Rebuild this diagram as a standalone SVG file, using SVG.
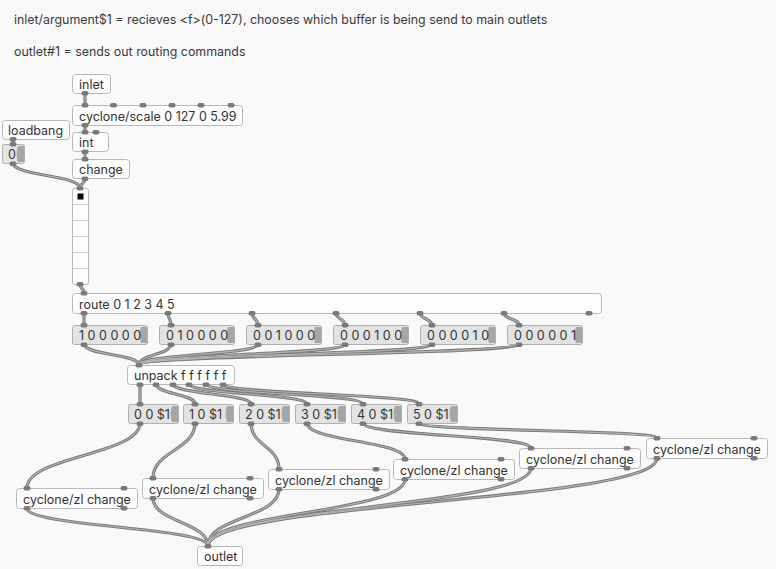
<svg xmlns="http://www.w3.org/2000/svg" width="776" height="569" viewBox="0 0 776 569">
<defs>
<style>
.bg{fill:#f9f9f9}
.obj{fill:#fdfdfd;stroke:#b8b8b8;stroke-width:1}
.msg{fill:#e3e3e3;stroke:#b0b0b0;stroke-width:1}
.flag{fill:#a6a6a6}
.io{fill:#7a7a7a}
.t{font-family:Inter,"DejaVu Sans",sans-serif;font-size:12.5px;fill:#333}
.c{font-family:Inter,"DejaVu Sans",sans-serif;font-size:12.4px;fill:#3a3a3a}
.cell{stroke:#d0d0d0;stroke-width:1}
.co{fill:none;stroke:#7a7a7a;stroke-width:3.2;stroke-linecap:round}
.ci{fill:none;stroke:#b4b4b4;stroke-width:1.1;stroke-linecap:round}
</style>
</defs>
<rect class="bg" x="0" y="0" width="776" height="569"/>

<g id="comments">
<text class="c" x="14" y="23.5">inlet/argument$1 = recieves &lt;f&gt;(0-127), chooses which buffer is being send to main outlets</text>
<text class="c" x="14" y="55.5">outlet#1 = sends out routing commands</text>
</g>

<g id="connectors">
<g class="co">
<path d="M85,93 L85,105"/>
<path d="M85,125 L85,132"/>
<path d="M85,152 L85,159"/>
<path d="M85,179 C85,184 80,183 80,188"/>
<path d="M13,139 L13,144"/>
<path d="M13,163 C13,176 80,175 80,188"/>
<path d="M80,284 C80,289 84,288 84,293"/>
<path d="M84,313 L84,325"/>
<path d="M168,313 C168,319 171,319 171,325"/>
<path d="M252,313 C252,319 258,319 258,325"/>
<path d="M336,313 C336,319 345,319 345,325"/>
<path d="M420,313 C420,319 432,319 432,325"/>
<path d="M504,313 C504,319 519,319 519,325"/>
<path d="M84,344 C84,355 139,354 139,365"/>
<path d="M171,344 C171,355 139,354 139,365"/>
<path d="M258,344 C258,355 139,354 139,365"/>
<path d="M345,344 C345,355 139,354 139,365"/>
<path d="M432,344 C432,355 139,354 139,365"/>
<path d="M519,344 C519,355 139,354 139,365"/>
<path d="M140,384 L140,404"/>
<path d="M156,384 C156,394 195,394 195,404"/>
<path d="M173,384 C173,394 251,394 251,404"/>
<path d="M189,384 C189,394 307,394 307,404"/>
<path d="M206,384 C206,394 363,394 363,404"/>
<path d="M223,384 C223,394 419,394 419,404"/>
<path d="M140,423 C140,455 27,456 27,488"/>
<path d="M195,423 C195,450 153,451 153,478"/>
<path d="M251,423 C251,446 279,446 279,469"/>
<path d="M307,423 C307,441 405,441 405,459"/>
<path d="M363,423 C363,436 531,435 531,448"/>
<path d="M419,423 C419,431 657,430 657,438"/>
<path d="M27,508 C27,527 208,527 208,546"/>
<path d="M153,498 C153,522 208,522 208,546"/>
<path d="M279,489 C279,518 208,517 208,546"/>
<path d="M405,479 C405,513 208,512 208,546"/>
<path d="M531,468 C531,507 208,507 208,546"/>
<path d="M657,458 C657,502 208,502 208,546"/>
</g>
<g class="ci">
<path d="M85,93 L85,105"/>
<path d="M85,125 L85,132"/>
<path d="M85,152 L85,159"/>
<path d="M85,179 C85,184 80,183 80,188"/>
<path d="M13,139 L13,144"/>
<path d="M13,163 C13,176 80,175 80,188"/>
<path d="M80,284 C80,289 84,288 84,293"/>
<path d="M84,313 L84,325"/>
<path d="M168,313 C168,319 171,319 171,325"/>
<path d="M252,313 C252,319 258,319 258,325"/>
<path d="M336,313 C336,319 345,319 345,325"/>
<path d="M420,313 C420,319 432,319 432,325"/>
<path d="M504,313 C504,319 519,319 519,325"/>
<path d="M84,344 C84,355 139,354 139,365"/>
<path d="M171,344 C171,355 139,354 139,365"/>
<path d="M258,344 C258,355 139,354 139,365"/>
<path d="M345,344 C345,355 139,354 139,365"/>
<path d="M432,344 C432,355 139,354 139,365"/>
<path d="M519,344 C519,355 139,354 139,365"/>
<path d="M140,384 L140,404"/>
<path d="M156,384 C156,394 195,394 195,404"/>
<path d="M173,384 C173,394 251,394 251,404"/>
<path d="M189,384 C189,394 307,394 307,404"/>
<path d="M206,384 C206,394 363,394 363,404"/>
<path d="M223,384 C223,394 419,394 419,404"/>
<path d="M140,423 C140,455 27,456 27,488"/>
<path d="M195,423 C195,450 153,451 153,478"/>
<path d="M251,423 C251,446 279,446 279,469"/>
<path d="M307,423 C307,441 405,441 405,459"/>
<path d="M363,423 C363,436 531,435 531,448"/>
<path d="M419,423 C419,431 657,430 657,438"/>
<path d="M27,508 C27,527 208,527 208,546"/>
<path d="M153,498 C153,522 208,522 208,546"/>
<path d="M279,489 C279,518 208,517 208,546"/>
<path d="M405,479 C405,513 208,512 208,546"/>
<path d="M531,468 C531,507 208,507 208,546"/>
<path d="M657,458 C657,502 208,502 208,546"/>
</g>
</g>

<g id="inlet">
<rect class="obj" x="72.5" y="74.5" width="38" height="19" rx="3"/>
<text class="t" x="79" y="89">inlet</text>
<rect class="io" x="81.5" y="91" width="7" height="4.5" rx="2"/>
</g>

<g id="scale">
<rect class="obj" x="72.5" y="105.5" width="170" height="20" rx="3"/>
<text class="t" x="79" y="120.5">cyclone/scale 0 127 0 5.99</text>
<rect class="io" x="81.5" y="103" width="7" height="4.5" rx="2"/>
<rect class="io" x="110" y="103" width="7" height="4.5" rx="2"/>
<rect class="io" x="139.5" y="103" width="7" height="4.5" rx="2"/>
<rect class="io" x="168.5" y="103" width="7" height="4.5" rx="2"/>
<rect class="io" x="197.5" y="103" width="7" height="4.5" rx="2"/>
<rect class="io" x="227.5" y="103" width="7" height="4.5" rx="2"/>
<rect class="io" x="81.5" y="123" width="7" height="4.5" rx="2"/>
</g>

<g id="int">
<rect class="obj" x="72.5" y="132.5" width="36" height="19" rx="3"/>
<text class="t" x="79" y="147">int</text>
<rect class="io" x="81.5" y="130" width="7" height="4.5" rx="2"/>
<rect class="io" x="92.5" y="130" width="7" height="4.5" rx="2"/>
<rect class="io" x="81.5" y="149.5" width="7" height="4.5" rx="2"/>
</g>

<g id="change">
<rect class="obj" x="72.5" y="159.5" width="57" height="19" rx="3"/>
<text class="t" x="79" y="174">change</text>
<rect class="io" x="81.5" y="157" width="7" height="4.5" rx="2"/>
<rect class="io" x="81.5" y="176.5" width="7" height="4.5" rx="2"/>
</g>

<g id="loadbang">
<rect class="obj" x="2.5" y="120.5" width="67" height="19" rx="3"/>
<text class="t" x="8" y="135">loadbang</text>
<rect class="io" x="9.5" y="137" width="7" height="4.5" rx="2"/>
</g>

<g id="atom0">
<rect class="msg" x="2.5" y="144.5" width="22" height="19" rx="2"/>
<path class="flag" d="M24,146 L18,146 Q15,154 18,162 L24,162 Z"/>
<text class="t" x="8" y="159">0</text>
<rect class="io" x="9.5" y="142" width="7" height="4.5" rx="2"/>
<rect class="io" x="9.5" y="161.5" width="7" height="4.5" rx="2"/>
</g>

<g id="radio">
<rect class="obj" x="72.5" y="188.5" width="16" height="96" rx="2"/>
<line class="cell" x1="73" y1="204.5" x2="88" y2="204.5"/>
<line class="cell" x1="73" y1="220.5" x2="88" y2="220.5"/>
<line class="cell" x1="73" y1="236.5" x2="88" y2="236.5"/>
<line class="cell" x1="73" y1="252.5" x2="88" y2="252.5"/>
<line class="cell" x1="73" y1="268.5" x2="88" y2="268.5"/>
<rect x="77.5" y="193.5" width="6" height="6" fill="#000"/>
<rect class="io" x="76.5" y="186" width="7" height="4.5" rx="2"/>
<rect class="io" x="76.5" y="282" width="7" height="4.5" rx="2"/>
</g>

<g id="route">
<rect class="obj" x="72.5" y="293.5" width="529" height="20" rx="3"/>
<text class="t" x="79" y="308.5">route 0 1 2 3 4 5</text>
<rect class="io" x="80.5" y="291" width="7" height="4.5" rx="2"/>
<rect class="io" x="80.5" y="311" width="7" height="4.5" rx="2"/>
<rect class="io" x="164.5" y="311" width="7" height="4.5" rx="2"/>
<rect class="io" x="248.5" y="311" width="7" height="4.5" rx="2"/>
<rect class="io" x="332.5" y="311" width="7" height="4.5" rx="2"/>
<rect class="io" x="416.5" y="311" width="7" height="4.5" rx="2"/>
<rect class="io" x="500.5" y="311" width="7" height="4.5" rx="2"/>
<rect class="io" x="585.5" y="311" width="7" height="4.5" rx="2"/>
</g>

<g id="m100000">
<rect class="msg" x="72.5" y="325.5" width="75" height="19" rx="2"/>
<path class="flag" d="M147,327 L141,327 Q138,335 141,343 L147,343 Z"/>
<text class="t" x="79" y="340">1 0 0 0 0 0</text>
<rect class="io" x="80.5" y="323" width="7" height="4.5" rx="2"/>
<rect class="io" x="80.5" y="342.5" width="7" height="4.5" rx="2"/>
</g>
<g id="m010000">
<rect class="msg" x="159.5" y="325.5" width="75" height="19" rx="2"/>
<path class="flag" d="M234,327 L228,327 Q225,335 228,343 L234,343 Z"/>
<text class="t" x="166" y="340">0 1 0 0 0 0</text>
<rect class="io" x="167.5" y="323" width="7" height="4.5" rx="2"/>
<rect class="io" x="167.5" y="342.5" width="7" height="4.5" rx="2"/>
</g>
<g id="m001000">
<rect class="msg" x="246.5" y="325.5" width="75" height="19" rx="2"/>
<path class="flag" d="M321,327 L315,327 Q312,335 315,343 L321,343 Z"/>
<text class="t" x="253" y="340">0 0 1 0 0 0</text>
<rect class="io" x="254.5" y="323" width="7" height="4.5" rx="2"/>
<rect class="io" x="254.5" y="342.5" width="7" height="4.5" rx="2"/>
</g>
<g id="m000100">
<rect class="msg" x="333.5" y="325.5" width="75" height="19" rx="2"/>
<path class="flag" d="M408,327 L402,327 Q399,335 402,343 L408,343 Z"/>
<text class="t" x="340" y="340">0 0 0 1 0 0</text>
<rect class="io" x="341.5" y="323" width="7" height="4.5" rx="2"/>
<rect class="io" x="341.5" y="342.5" width="7" height="4.5" rx="2"/>
</g>
<g id="m000010">
<rect class="msg" x="420.5" y="325.5" width="75" height="19" rx="2"/>
<path class="flag" d="M495,327 L489,327 Q486,335 489,343 L495,343 Z"/>
<text class="t" x="427" y="340">0 0 0 0 1 0</text>
<rect class="io" x="428.5" y="323" width="7" height="4.5" rx="2"/>
<rect class="io" x="428.5" y="342.5" width="7" height="4.5" rx="2"/>
</g>
<g id="m000001">
<rect class="msg" x="507.5" y="325.5" width="75" height="19" rx="2"/>
<path class="flag" d="M582,327 L576,327 Q573,335 576,343 L582,343 Z"/>
<text class="t" x="514" y="340">0 0 0 0 0 1</text>
<rect class="io" x="515.5" y="323" width="7" height="4.5" rx="2"/>
<rect class="io" x="515.5" y="342.5" width="7" height="4.5" rx="2"/>
</g>

<g id="unpack">
<rect class="obj" x="127.5" y="365.5" width="107" height="19" rx="3"/>
<text class="t" x="134" y="380">unpack f f f f f f</text>
<rect class="io" x="135.5" y="363" width="7" height="4.5" rx="2"/>
<rect class="io" x="136.5" y="382.5" width="7" height="4.5" rx="2"/>
<rect class="io" x="152.5" y="382.5" width="7" height="4.5" rx="2"/>
<rect class="io" x="169.5" y="382.5" width="7" height="4.5" rx="2"/>
<rect class="io" x="185.5" y="382.5" width="7" height="4.5" rx="2"/>
<rect class="io" x="202.5" y="382.5" width="7" height="4.5" rx="2"/>
<rect class="io" x="219.5" y="382.5" width="7" height="4.5" rx="2"/>
</g>

<g id="s0">
<rect class="msg" x="128.5" y="404.5" width="50" height="19" rx="2"/>
<path class="flag" d="M178,406 L172,406 Q169,414 172,422 L178,422 Z"/>
<text class="t" x="134" y="419">0 0 $1</text>
<rect class="io" x="136.5" y="402" width="7" height="4.5" rx="2"/>
<rect class="io" x="136.5" y="421.5" width="7" height="4.5" rx="2"/>
</g>
<g id="s1">
<rect class="msg" x="183.5" y="404.5" width="50" height="19" rx="2"/>
<path class="flag" d="M233,406 L227,406 Q224,414 227,422 L233,422 Z"/>
<text class="t" x="189" y="419">1 0 $1</text>
<rect class="io" x="191.5" y="402" width="7" height="4.5" rx="2"/>
<rect class="io" x="191.5" y="421.5" width="7" height="4.5" rx="2"/>
</g>
<g id="s2">
<rect class="msg" x="239.5" y="404.5" width="50" height="19" rx="2"/>
<path class="flag" d="M289,406 L283,406 Q280,414 283,422 L289,422 Z"/>
<text class="t" x="245" y="419">2 0 $1</text>
<rect class="io" x="247.5" y="402" width="7" height="4.5" rx="2"/>
<rect class="io" x="247.5" y="421.5" width="7" height="4.5" rx="2"/>
</g>
<g id="s3">
<rect class="msg" x="295.5" y="404.5" width="50" height="19" rx="2"/>
<path class="flag" d="M345,406 L339,406 Q336,414 339,422 L345,422 Z"/>
<text class="t" x="301" y="419">3 0 $1</text>
<rect class="io" x="303.5" y="402" width="7" height="4.5" rx="2"/>
<rect class="io" x="303.5" y="421.5" width="7" height="4.5" rx="2"/>
</g>
<g id="s4">
<rect class="msg" x="351.5" y="404.5" width="50" height="19" rx="2"/>
<path class="flag" d="M401,406 L395,406 Q392,414 395,422 L401,422 Z"/>
<text class="t" x="357" y="419">4 0 $1</text>
<rect class="io" x="359.5" y="402" width="7" height="4.5" rx="2"/>
<rect class="io" x="359.5" y="421.5" width="7" height="4.5" rx="2"/>
</g>
<g id="s5">
<rect class="msg" x="407.5" y="404.5" width="50" height="19" rx="2"/>
<path class="flag" d="M457,406 L451,406 Q448,414 451,422 L457,422 Z"/>
<text class="t" x="413" y="419">5 0 $1</text>
<rect class="io" x="415.5" y="402" width="7" height="4.5" rx="2"/>
<rect class="io" x="415.5" y="421.5" width="7" height="4.5" rx="2"/>
</g>

<g id="zlA">
<rect class="obj" x="16.5" y="488.5" width="121" height="20" rx="3"/>
<text class="t" x="23" y="503.5">cyclone/zl change</text>
<rect class="io" x="23.5" y="486" width="7" height="4.5" rx="2"/>
<rect class="io" x="120.5" y="486" width="7" height="4.5" rx="2"/>
<rect class="io" x="23.5" y="506" width="7" height="4.5" rx="2"/>
<rect class="io" x="120.5" y="506" width="7" height="4.5" rx="2"/>
</g>
<g id="zlB">
<rect class="obj" x="142.5" y="478.5" width="121" height="20" rx="3"/>
<text class="t" x="149" y="493.5">cyclone/zl change</text>
<rect class="io" x="149.5" y="476" width="7" height="4.5" rx="2"/>
<rect class="io" x="246.5" y="476" width="7" height="4.5" rx="2"/>
<rect class="io" x="149.5" y="496" width="7" height="4.5" rx="2"/>
<rect class="io" x="246.5" y="496" width="7" height="4.5" rx="2"/>
</g>
<g id="zlC">
<rect class="obj" x="268.5" y="469.5" width="121" height="20" rx="3"/>
<text class="t" x="275" y="484.5">cyclone/zl change</text>
<rect class="io" x="275.5" y="467" width="7" height="4.5" rx="2"/>
<rect class="io" x="372.5" y="467" width="7" height="4.5" rx="2"/>
<rect class="io" x="275.5" y="487" width="7" height="4.5" rx="2"/>
<rect class="io" x="372.5" y="487" width="7" height="4.5" rx="2"/>
</g>
<g id="zlD">
<rect class="obj" x="393.5" y="459.5" width="121" height="20" rx="3"/>
<text class="t" x="400" y="474.5">cyclone/zl change</text>
<rect class="io" x="401.5" y="457" width="7" height="4.5" rx="2"/>
<rect class="io" x="497.5" y="457" width="7" height="4.5" rx="2"/>
<rect class="io" x="401.5" y="477" width="7" height="4.5" rx="2"/>
<rect class="io" x="497.5" y="477" width="7" height="4.5" rx="2"/>
</g>
<g id="zlE">
<rect class="obj" x="519.5" y="448.5" width="121" height="20" rx="3"/>
<text class="t" x="526" y="463.5">cyclone/zl change</text>
<rect class="io" x="527.5" y="446" width="7" height="4.5" rx="2"/>
<rect class="io" x="623.5" y="446" width="7" height="4.5" rx="2"/>
<rect class="io" x="527.5" y="466" width="7" height="4.5" rx="2"/>
<rect class="io" x="623.5" y="466" width="7" height="4.5" rx="2"/>
</g>
<g id="zlF">
<rect class="obj" x="646.5" y="438.5" width="121" height="20" rx="3"/>
<text class="t" x="653" y="453.5">cyclone/zl change</text>
<rect class="io" x="653.5" y="436" width="7" height="4.5" rx="2"/>
<rect class="io" x="750.5" y="436" width="7" height="4.5" rx="2"/>
<rect class="io" x="653.5" y="456" width="7" height="4.5" rx="2"/>
<rect class="io" x="750.5" y="456" width="7" height="4.5" rx="2"/>
</g>

<g id="outlet">
<rect class="obj" x="197.5" y="546.5" width="45" height="19" rx="3"/>
<text class="t" x="204" y="561">outlet</text>
<rect class="io" x="204.5" y="544" width="7" height="4.5" rx="2"/>
</g>
</svg>
